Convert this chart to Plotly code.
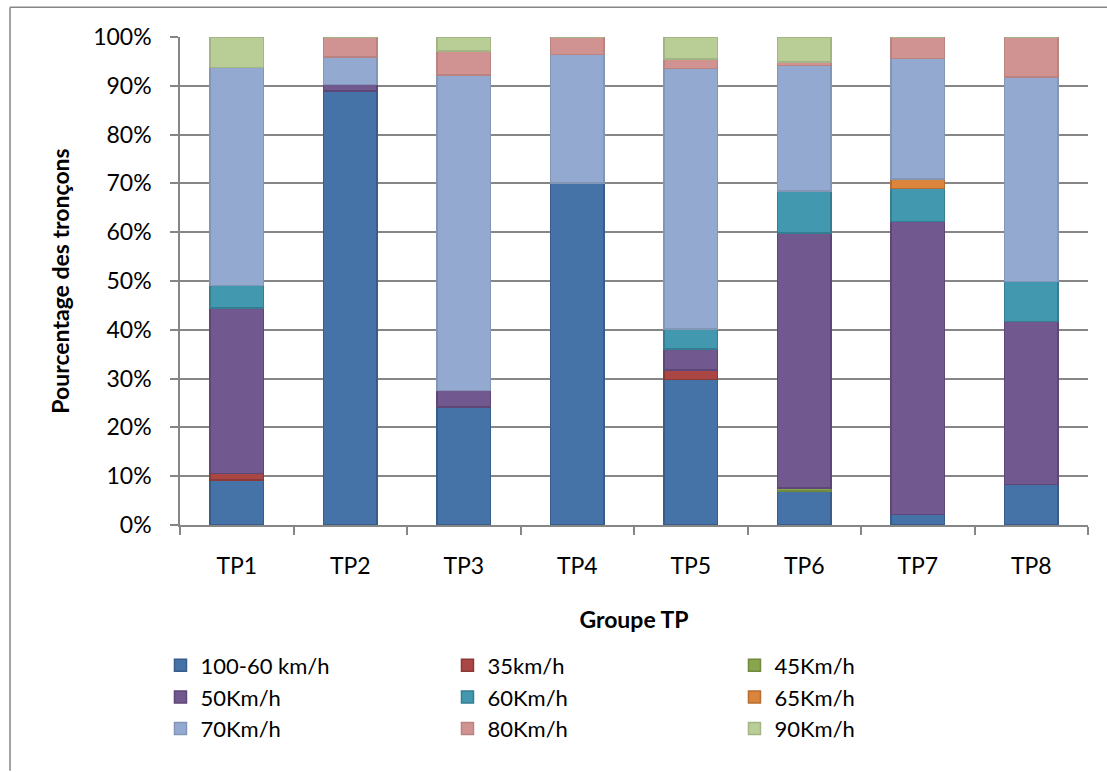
import plotly.graph_objects as go

categories = ["TP1", "TP2", "TP3", "TP4", "TP5", "TP6", "TP7", "TP8"]

series_names = ["100-60 km/h", "35km/h", "45Km/h", "50Km/h", "60Km/h",
                "65Km/h", "70Km/h", "80Km/h", "90Km/h"]

v_100_60 = [9.2, 88.9, 24.2, 70.1, 29.8, 7.0, 2.2, 8.3]
v_35 = [1.4, 0, 0, 0, 2.0, 0, 0, 0]
v_45 = [0, 0, 0, 0, 0, 0.6, 0, 0]
v_50 = [33.9, 1.4, 3.4, 0, 4.3, 52.2, 60.0, 33.4]
v_60 = [4.6, 0, 0, 0, 4.1, 8.6, 6.8, 8.2]
v_65 = [0, 0, 0, 0, 0, 0, 1.9, 0]
v_70 = [44.7, 5.6, 64.6, 26.3, 53.3, 25.8, 24.7, 41.9]
v_80 = [0, 4.1, 4.9, 3.6, 2.0, 0.7, 4.4, 8.2]
v_90 = [6.1, 0, 2.9, 0, 4.5, 5.1, 0, 0]

series_values = [v_100_60, v_35, v_45, v_50, v_60, v_65, v_70, v_80, v_90]

fill_colors = ["#4572A7", "#AA4643", "#89A54E", "#71588F", "#4198AF",
               "#DB843D", "#93A9CF", "#D19392", "#B9CD96"]
line_colors = ["#385D8A", "#8C3836", "#71893F", "#5C4776", "#357D91",
               "#B66D31", "#8496B5", "#B98381", "#A3B585"]

FONT = "Lato"

fig = go.Figure()
for name, vals, fc, lc in zip(series_names, series_values, fill_colors, line_colors):
    fig.add_trace(go.Bar(
        x=categories, y=[v / 100 for v in vals], name=name,
        marker=dict(color=fc, line=dict(color=lc, width=1.5)),
    ))

fig.update_layout(
    barmode="stack",
    bargap=0.53,
    width=1107, height=772,
    margin=dict(l=180, r=19, t=37, b=247),
    paper_bgcolor="white", plot_bgcolor="white",
    font=dict(family=FONT, size=23, color="#000000"),
    showlegend=True,
    legend=dict(
        orientation="h", x=-0.0215, xanchor="left", y=-0.245, yanchor="top",
        entrywidth=242, entrywidthmode="pixels",
        font=dict(family=FONT, size=22, color="#000000"),
        traceorder="normal", itemclick=False,
        tracegroupgap=0,
    ),
    xaxis=dict(
        type="category",
        showline=True, linecolor="#868686", linewidth=1.5,
        ticks="outside", tickson="boundaries", ticklen=8, tickcolor="#868686", tickwidth=1.5,
        showgrid=False,
        ticklabelstandoff=20,
        tickfont=dict(family=FONT, size=23),
        title=dict(text="<b>Groupe TP</b>", font=dict(family=FONT, size=23), standoff=34),
    ),
    yaxis=dict(
        range=[0, 1], tickformat=".0%", dtick=0.1,
        showline=True, linecolor="#868686", linewidth=1.5,
        ticks="outside", ticklen=8, tickcolor="#868686", tickwidth=1.5,
        showgrid=True, gridcolor="#868686", gridwidth=1.5,
        zeroline=False,
        ticklabelstandoff=14,
        tickfont=dict(family=FONT, size=23),
        title=dict(text="<b>Pourcentage des tronçons</b>", font=dict(family=FONT, size=23), standoff=17),
    ),
    shapes=[
        dict(type="line", xref="paper", yref="paper",
             x0=(10 - 180) / 908, x1=(1107 - 180) / 908,
             y0=(525.7 - 7) / 489, y1=(525.7 - 7) / 489,
             line=dict(color="#868686", width=1.5)),
        dict(type="line", xref="paper", yref="paper",
             x0=(10 - 180) / 908, x1=(10 - 180) / 908,
             y0=(525.7 - 7) / 489, y1=(525.7 - 772) / 489,
             line=dict(color="#868686", width=1.5)),
    ],
)

fig.write_html("out.html")
